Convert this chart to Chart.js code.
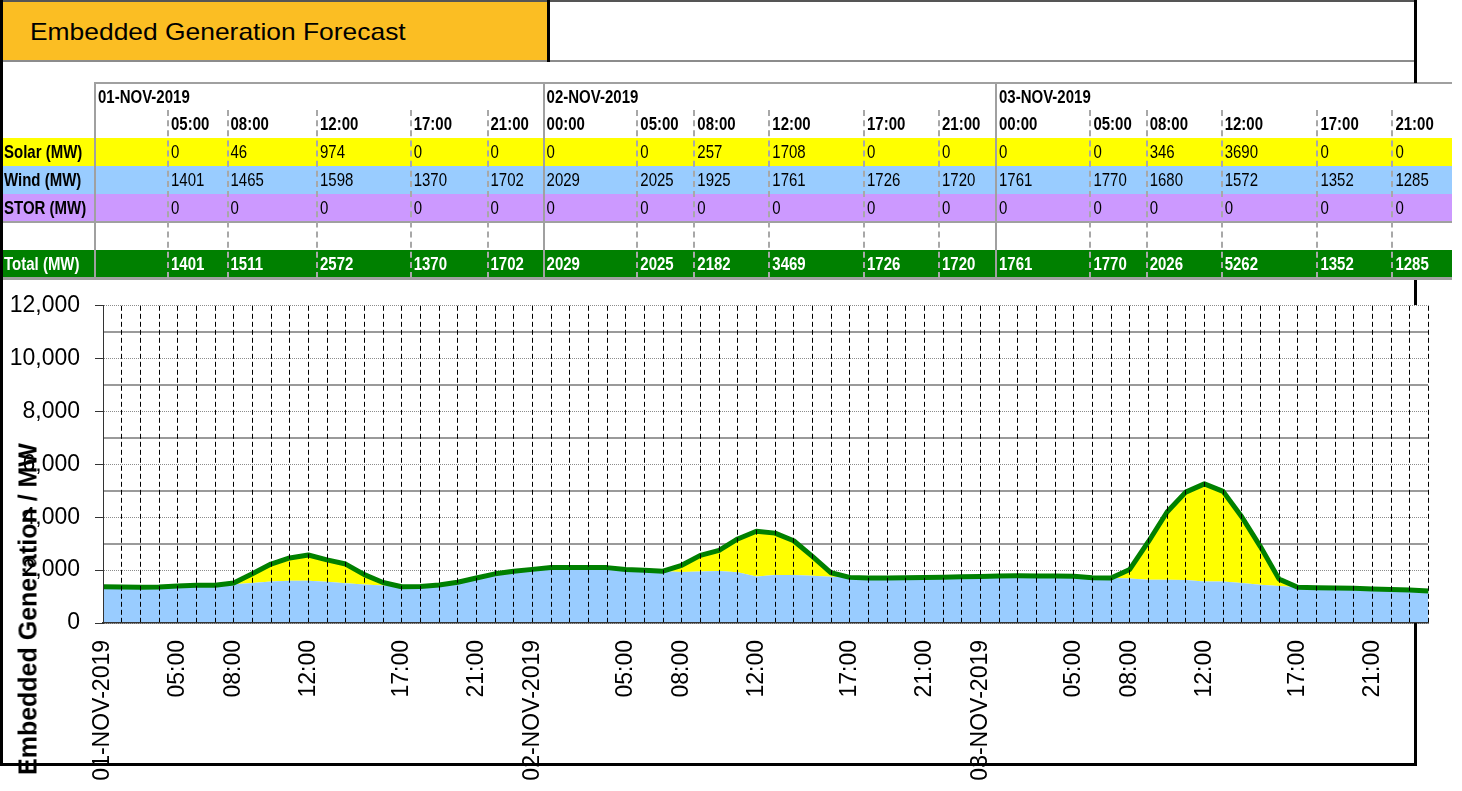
<!DOCTYPE html>
<html>
<head>
<meta charset="utf-8">
<title>Embedded Generation Forecast</title>
<script src="https://cdn.jsdelivr.net/npm/chart.js@4.4.1/dist/chart.umd.min.js"></script>
<style>
  html, body { margin: 0; padding: 0; background: #fff; }
  body { width: 1462px; height: 791px; position: relative; overflow: hidden;
         font-family: 'Liberation Sans', Arial, sans-serif; color: #000; }
  .abs { position: absolute; }
  .frame { position: absolute; background: #000; z-index: 5; }
  .cell { position: absolute; white-space: nowrap; font-size: 15px; z-index: 3; transform: scaleY(1.18); }
  #chartBox { position: absolute; left: 3px; top: 277px; width: 1470px; height: 514px; z-index: 1; }
  #yTitle { position: absolute; left: 28px; top: 609px; white-space: nowrap; font-weight: bold;
            font-size: 25px; line-height: 25px; transform: translate(-50%, -50%) rotate(-90deg); z-index: 6; }
</style>
</head>
<body>
<div class="abs" style="left:3px; top:2px; width:544px; height:58px; background:#FBBE23;"></div>
<div class="abs" style="left:30px; top:20px; font-size:24px; line-height:24px; transform:scaleX(1.1); transform-origin:left center; white-space:nowrap; z-index:4;">Embedded Generation Forecast</div>

<div id="chartBox"><canvas id="myChart"></canvas></div>
<div id="yTitle">Embedded Generation / MW</div>

<script>
// Categories: one per hour, only some are labelled
const categories = [
    '01-NOV-2019', '', '', '', '05:00', '', '', '08:00', '', '', '', '12:00', '', '', '', '', '17:00', '', '', '', '21:00', '', '',
    '02-NOV-2019', '', '', '', '', '05:00', '', '', '08:00', '', '', '', '12:00', '', '', '', '', '17:00', '', '', '', '21:00', '', '',
    '03-NOV-2019', '', '', '', '', '05:00', '', '', '08:00', '', '', '', '12:00', '', '', '', '', '17:00', '', '', '', '21:00', '', '', ''
];

const windMW = [
    1370, 1365, 1350, 1360, 1401, 1430, 1425, 1465, 1510, 1570, 1600, 1598, 1560, 1500, 1460, 1420, 1370, 1380, 1440, 1540, 1702, 1860, 1960,
    2029, 2100, 2100, 2100, 2095, 2025, 2000, 1960, 1925, 1950, 1970, 1920, 1761, 1820, 1815, 1790, 1750, 1726, 1705, 1705, 1710, 1720, 1730, 1745,
    1761, 1780, 1785, 1780, 1775, 1770, 1710, 1705, 1680, 1640, 1635, 1630, 1572, 1570, 1510, 1450, 1400, 1352, 1335, 1325, 1310, 1285, 1270, 1250, 1215
];

const solarMW = [
    0, 0, 0, 0, 0, 0, 0, 46, 350, 660, 860, 974, 830, 730, 370, 110, 0, 0, 0, 0, 0, 0, 0,
    0, 0, 0, 0, 0, 0, 0, 0, 257, 610, 780, 1260, 1708, 1580, 1295, 730, 150, 0, 0, 0, 0, 0, 0, 0,
    0, 0, 0, 0, 0, 0, 0, 0, 346, 1435, 2565, 3320, 3690, 3410, 2510, 1440, 260, 0, 0, 0, 0, 0, 0, 0, 0
];

const storMW = [
    0, 0, 0, 0, 0, 0, 0, 0, 0, 0, 0, 0, 0, 0, 0, 0, 0, 0, 0, 0, 0, 0, 0,
    0, 0, 0, 0, 0, 0, 0, 0, 0, 0, 0, 0, 0, 0, 0, 0, 0, 0, 0, 0, 0, 0, 0, 0,
    0, 0, 0, 0, 0, 0, 0, 0, 0, 0, 0, 0, 0, 0, 0, 0, 0, 0, 0, 0, 0, 0, 0, 0, 0
];

// total = sum of the three sources
const totalMW = windMW.map((w, i) => w + solarMW[i] + storMW[i]);

// Table above the chart
const tableDates = ['01-NOV-2019', '02-NOV-2019', '03-NOV-2019'];
const tableTimes = ['', '05:00', '08:00', '12:00', '17:00', '21:00',
                    '00:00', '05:00', '08:00', '12:00', '17:00', '21:00',
                    '00:00', '05:00', '08:00', '12:00', '17:00', '21:00'];
const tablePoints = [null, 4, 7, 11, 16, 20, 23, 28, 31, 35, 40, 44, 47, 52, 55, 59, 64, 68];
const rowLabels = ['Solar (MW)', 'Wind (MW)', 'STOR (MW)', '', 'Total (MW)'];

// layout of the table
const colEdges = [95, 168, 227.5, 317, 410.7, 487.5, 543.6, 637.3, 694.3, 769.3, 864, 939, 996, 1090.4, 1146.7, 1221.7, 1317.4, 1392.4, 1452];
const dayStarts = [0, 6, 12];

function addDiv(cls, css, text) {
    const d = document.createElement('div');
    d.className = cls;
    Object.assign(d.style, css);
    if (text !== undefined) d.textContent = text;
    document.body.appendChild(d);
    return d;
}

function buildTable() {
    const rowH = 28;
    const rows = [
        { top: 138, bg: '#FFFF00', values: solarMW, color: '#000', bold: false },
        { top: 166, bg: '#99CCFF', values: windMW, color: '#000', bold: false },
        { top: 194, bg: '#CC99FF', values: storMW, color: '#000', bold: false },
        { top: 222, bg: '#FFFFFF', values: null },
        { top: 250, bg: '#008000', values: totalMW, color: '#fff', bold: true }
    ];

    // row backgrounds
    rows.forEach(r => {
        addDiv('abs', { left: '3px', top: r.top + 'px', width: '1449px', height: rowH + 'px', background: r.bg, zIndex: 2 });
    });

    // horizontal rules
    addDiv('abs', { left: '95px', top: '82px', width: '1357px', height: '2px', background: '#a0a0a0', zIndex: 3 });
    addDiv('abs', { left: '3px', top: '221px', width: '1449px', height: '2px', background: '#a0a0a0', zIndex: 3 });
    addDiv('abs', { left: '3px', top: '277px', width: '1449px', height: '3px', background: '#a0a0a0', zIndex: 3 });

    // vertical rules
    addDiv('abs', { left: '94px', top: '82px', width: '2px', height: '198px', background: '#a0a0a0', zIndex: 3 });
    for (let c = 1; c < tableTimes.length; c++) {
        const x = colEdges[c] - 1;
        if (dayStarts.includes(c)) {
            addDiv('abs', { left: x + 'px', top: '82px', width: '2px', height: '198px', background: '#a0a0a0', zIndex: 3 });
        } else {
            addDiv('abs', { left: x + 'px', top: '110px', width: '0px', height: '168px', borderLeft: '2px dashed #a8a8a8', zIndex: 3 });
        }
    }

    // date row
    dayStarts.forEach((c, k) => {
        addDiv('cell', { left: (colEdges[c] + 3) + 'px', top: '83px', height: '27px', lineHeight: '27px', fontWeight: 'bold' }, tableDates[k]);
    });

    // time row
    tableTimes.forEach((t, c) => {
        if (!t) return;
        addDiv('cell', { left: (colEdges[c] + 3) + 'px', top: '110px', height: '28px', lineHeight: '28px', fontWeight: 'bold' }, t);
    });

    // data rows
    rows.forEach((r, k) => {
        if (rowLabels[k]) {
            addDiv('cell', { left: '4px', top: r.top + 'px', height: rowH + 'px', lineHeight: rowH + 'px', fontWeight: 'bold', color: r.color }, rowLabels[k]);
        }
        if (!r.values) return;
        tablePoints.forEach((p, c) => {
            if (p === null) return;
            addDiv('cell', { left: (colEdges[c] + 3) + 'px', top: r.top + 'px', height: rowH + 'px', lineHeight: rowH + 'px',
                             fontWeight: r.bold ? 'bold' : 'normal', color: r.color }, String(r.values[p]));
        });
    });
}

function buildFrame() {
    addDiv('frame', { left: '0px', top: '0px', width: '1417px', height: '2px', background: '#555' });
    addDiv('frame', { left: '3px', top: '60px', width: '1411px', height: '2px', background: '#8c8c8c' });
    addDiv('frame', { left: '0px', top: '0px', width: '3px', height: '766px' });
    addDiv('frame', { left: '0px', top: '763px', width: '1417px', height: '3px' });
    addDiv('frame', { left: '547px', top: '0px', width: '3px', height: '62px' });
    addDiv('frame', { left: '1414px', top: '0px', width: '3px', height: '83px' });
    addDiv('frame', { left: '1414px', top: '280px', width: '3px', height: '25px' });
    addDiv('frame', { left: '1414px', top: '623px', width: '3px', height: '143px' });
}

buildTable();
buildFrame();

Chart.defaults.font.family = "'Liberation Sans', Arial, sans-serif";
Chart.defaults.color = '#000';

const ctx = document.getElementById('myChart').getContext('2d');
const myChart = new Chart(ctx, {
    type: 'line',
    data: {
        labels: categories,
        datasets: [
            {
                label: 'Wind (MW)', data: windMW, yAxisID: 'y', stack: 'gen',
                fill: 'origin', backgroundColor: '#99CCFF', borderColor: 'rgba(0,0,0,0)', borderWidth: 0,
                pointRadius: 0, tension: 0
            },
            {
                label: 'Solar (MW)', data: solarMW, yAxisID: 'y', stack: 'gen',
                fill: '-1', backgroundColor: '#FFFF00', borderColor: 'rgba(0,0,0,0)', borderWidth: 0,
                pointRadius: 0, tension: 0
            },
            {
                label: 'STOR (MW)', data: storMW, yAxisID: 'y', stack: 'gen',
                fill: '-1', backgroundColor: '#CC99FF', borderColor: 'rgba(0,0,0,0)', borderWidth: 0,
                pointRadius: 0, tension: 0
            },
            {
                label: 'Total (MW)', data: totalMW, yAxisID: 'y', stack: 'total', order: -1,
                fill: false, borderColor: '#008000', borderWidth: 5, borderJoinStyle: 'round',
                pointRadius: 0, tension: 0
            }
        ]
    },
    options: {
        responsive: true,
        maintainAspectRatio: false,
        animation: false,
        layout: { padding: 0 },
        plugins: {
            legend: { display: false },
            tooltip: { enabled: false }
        },
        scales: {
            x: {
                type: 'category',
                offset: false,
                afterFit: (scale) => { scale.height = 168; },
                ticks: { autoSkip: false, minRotation: 90, maxRotation: 90, padding: 17, color: '#000', font: { size: 23 } },
                grid: { color: '#000', lineWidth: 1, drawTicks: false, offset: false, z: 1 },
                border: { display: true, color: '#333', width: 1.5, dash: [5, 3], z: 1 }
            },
            y: {
                stacked: true,
                min: 0,
                max: 12000,
                afterFit: (scale) => { scale.width = 100; },
                ticks: {
                    stepSize: 2000, maxTicksLimit: 20, padding: 15, color: '#000', font: { size: 23 },
                    callback: (v) => v.toLocaleString('en-US')
                },
                grid: { color: '#8c8c8c', lineWidth: 1, drawTicks: true, tickLength: 8, tickColor: '#333', tickBorderDash: [] },
                border: { display: true, color: '#333', width: 1, dash: [1, 1], z: 1 }
            },
            yMinor: {
                position: 'right',
                min: 0,
                max: 12000,
                afterFit: (scale) => { scale.width = 0; },
                ticks: { display: false, stepSize: 1000, maxTicksLimit: 20 },
                grid: {
                    drawTicks: false, lineWidth: 2,
                    color: (c) => (c.tick && c.tick.value % 2000 === 1000) ? '#9a9a9a' : 'rgba(0,0,0,0)'
                },
                border: { display: false }
            }
        }
    }
});
</script>
</body>
</html>
